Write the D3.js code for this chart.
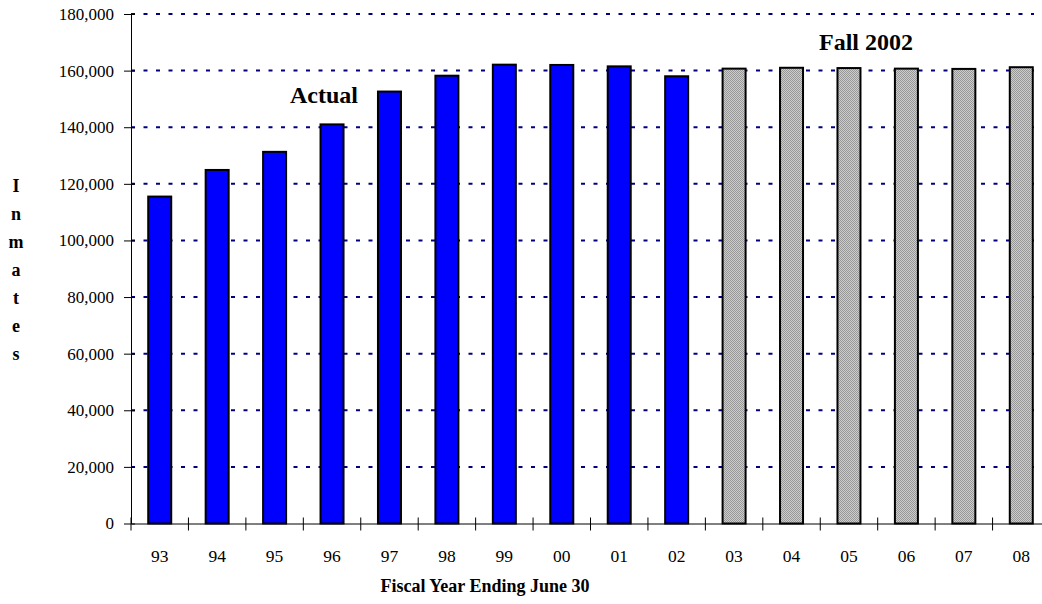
<!DOCTYPE html>
<html><head><meta charset="utf-8">
<script src="https://cdn.jsdelivr.net/npm/d3@7"></script>
<style>
html,body{margin:0;padding:0;background:#fff;overflow:hidden}
svg{display:block;font-family:"Liberation Serif","Times New Roman",serif}
</style></head>
<body>
<svg id="chart" width="1042" height="604"></svg>
<script>
const years = ["93","94","95","96","97","98","99","00","01","02","03","04","05","06","07","08"];
const inmates = [115500,124900,131300,141000,152600,158200,162100,162000,161500,158000,160700,161000,160900,160700,160600,161200];
const kinds = ["Actual","Actual","Actual","Actual","Actual","Actual","Actual","Actual","Actual","Actual","Projected","Projected","Projected","Projected","Projected","Projected"];
const yTicks = [0,20000,40000,60000,80000,100000,120000,140000,160000,180000];
const yTitle = "Inmates";
const xTitle = "Fiscal Year Ending June 30";
const annotations = [{text:"Actual", year:"96", value:148500},{text:"Fall 2002", year:"05", value:167200}];

const svg = d3.select("#chart");
const m = {left:131, right:1050, top:14, bottom:523.5, gridEnd:1034};
const x = d3.scaleBand().domain(years).range([m.left, m.right]).paddingInner(0).paddingOuter(0);
const y = d3.scaleLinear().domain([0,180000]).range([m.bottom, m.top]);

const defs = svg.append("defs");
const pat = defs.append("pattern").attr("id","stipple").attr("patternUnits","userSpaceOnUse").attr("width",2).attr("height",2);
pat.append("rect").attr("width",2).attr("height",2).attr("fill","#cdcdcd");
pat.append("rect").attr("width",1).attr("height",1).attr("fill","#979797");
pat.append("rect").attr("x",1).attr("y",1).attr("width",1).attr("height",1).attr("fill","#979797");

// gridlines
svg.append("g").selectAll("line").data(yTicks.filter(d=>d>0)).join("line")
  .attr("x1", m.left).attr("x2", m.gridEnd)
  .attr("y1", d=>y(d)).attr("y2", d=>y(d))
  .attr("stroke","#000080").attr("stroke-width",2).attr("stroke-dasharray","4,8.5");

// bars
const bw = 23;
svg.append("g").selectAll("rect").data(years).join("rect")
  .attr("x", (d)=>x(d)+x.bandwidth()/2-bw/2)
  .attr("width", bw)
  .attr("y", (d,i)=>y(inmates[i]))
  .attr("height", (d,i)=>y(0)-y(inmates[i]))
  .attr("fill", (d,i)=>kinds[i]==="Actual" ? "#0000ff" : "url(#stipple)")
  .attr("stroke","#000").attr("stroke-width",2);

// y axis
const yAxis = d3.axisLeft(y).tickValues(yTicks).tickFormat(d3.format(",")).tickSize(0).tickPadding(17);
const gy = svg.append("g").attr("transform",`translate(${m.left},0)`).call(yAxis);
gy.select(".domain").attr("stroke","#000").attr("stroke-width",1);
gy.selectAll(".tick text").attr("font-size",17).attr("font-family","Liberation Serif").attr("fill","#000");
gy.selectAll(".tick").append("line").attr("x1",-7).attr("x2",4).attr("stroke","#000");

// x axis
const xAxis = d3.axisBottom(x).tickSize(0).tickPadding(26);
const gx = svg.append("g").attr("transform",`translate(0,${m.bottom})`).call(xAxis);
gx.select(".domain").attr("stroke","#000").attr("stroke-width",1);
gx.selectAll(".tick text").attr("font-size",17.5).attr("font-family","Liberation Serif").attr("fill","#000");
gx.append("g").selectAll("line").data(years).join("line")
  .attr("x1", d=>x(d)).attr("x2", d=>x(d)).attr("y1",-6).attr("y2",7).attr("stroke","#000");

// annotations
const annDx = [-8, 17];
svg.append("g").selectAll("text").data(annotations).join("text")
  .attr("x", (d,i)=>x(d.year)+x.bandwidth()/2+annDx[i])
  .attr("y", d=>y(d.value))
  .attr("text-anchor","middle").attr("font-weight","bold").attr("font-size",24)
  .text(d=>d.text);

// y title stacked letters
svg.append("g").selectAll("text").data(yTitle.split("")).join("text")
  .attr("x",16).attr("y",(d,i)=>192+i*28)
  .attr("text-anchor","middle").attr("font-weight","bold").attr("font-size",18)
  .text(d=>d);

// x title
svg.append("text").attr("x",485).attr("y",592).attr("text-anchor","middle")
  .attr("font-weight","bold").attr("font-size",18).text(xTitle);
</script>
</body></html>
